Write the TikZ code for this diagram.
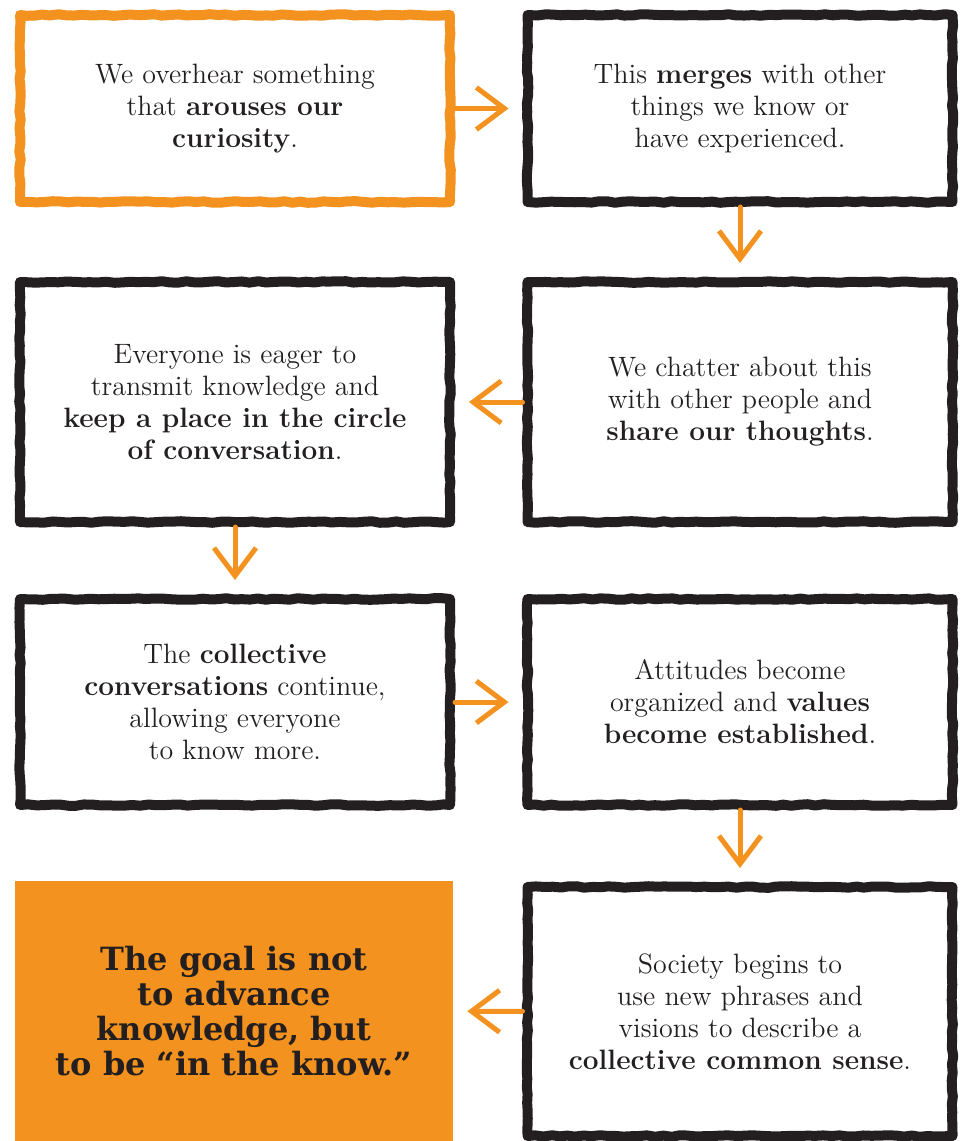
\documentclass[tikz,border=0pt]{standalone}
\usepackage{fontspec}
\newfontfamily\goalfont{DejaVu Serif}
\usetikzlibrary{arrows.meta,decorations.pathmorphing}
\definecolor{ochre}{RGB}{243,146,30}
\definecolor{inkblack}{RGB}{35,31,32}

\begin{document}
\pgfmathsetseed{7}
\begin{tikzpicture}[x=0.5pt, y=-0.5pt,
    stepbox/.style={rectangle, draw=inkblack, line width=5pt, line join=round,
        decorate, decoration={random steps, segment length=4pt, amplitude=0.4pt},
        align=center, text=inkblack, inner sep=0pt,
        font=\fontsize{14}{16}\selectfont},
    startbox/.style={stepbox, draw=ochre},
    goalbox/.style={rectangle, fill=ochre, align=center, text=inkblack,
        minimum width=219pt, minimum height=130.5pt,
        font=\goalfont\bfseries\fontsize{16}{17.5}\selectfont},
    arr/.style={-{Straight Barb[length=14pt, width=21pt]}, line width=2.5pt,
        ochre, line cap=round, shorten >=7pt}
]
    \useasboundingbox (0,0) rectangle (964,1141);

    \node[startbox, minimum width=215pt, minimum height=93.5pt] (start) at (235,108.5)
        {We overhear something\\ that \textbf{arouses our}\\ \textbf{curiosity}.};
    \node[stepbox, minimum width=212.5pt, minimum height=93.5pt] (merge) at (740,108.5)
        {This \textbf{merges} with other\\ things we know or\\ have experienced.};

    \node[stepbox, minimum width=215pt, minimum height=120pt] (eager) at (235,402)
        {Everyone is eager to\\ transmit knowledge and\\ \textbf{keep a place in the circle}\\ \textbf{of conversation}.};
    \node[stepbox, minimum width=212.5pt, minimum height=120pt] (chatter) at (740,402)
        {We chatter about this\\ with other people and\\ \textbf{share our thoughts}.};

    \node[stepbox, minimum width=215pt, minimum height=103pt] (collect) at (235,702)
        {The \textbf{collective}\\ \textbf{conversations} continue,\\ allowing everyone\\ to know more.};
    \node[stepbox, minimum width=212.5pt, minimum height=103pt] (values) at (740,702)
        {Attitudes become\\ organized and \textbf{values}\\ \textbf{become established}.};

    \node[goalbox] (goal) at (234,1011)
        {The goal is not\\ to advance\\ knowledge, but\\ to be “in the know.”};
    \node[stepbox, minimum width=212.5pt, minimum height=124.5pt] (society) at (740,1011.5)
        {Society begins to\\ use new phrases and\\ visions to describe a\\ \textbf{collective common sense}.};

    \draw[arr] (start) -- (merge); \draw[arr] (merge) -- (chatter);
    \draw[arr] (chatter) -- (eager); \draw[arr] (eager) -- (collect);
    \draw[arr] (collect) -- (values); \draw[arr] (values) -- (society);
    \draw[arr] (society) -- (goal);
\end{tikzpicture}
\end{document}
